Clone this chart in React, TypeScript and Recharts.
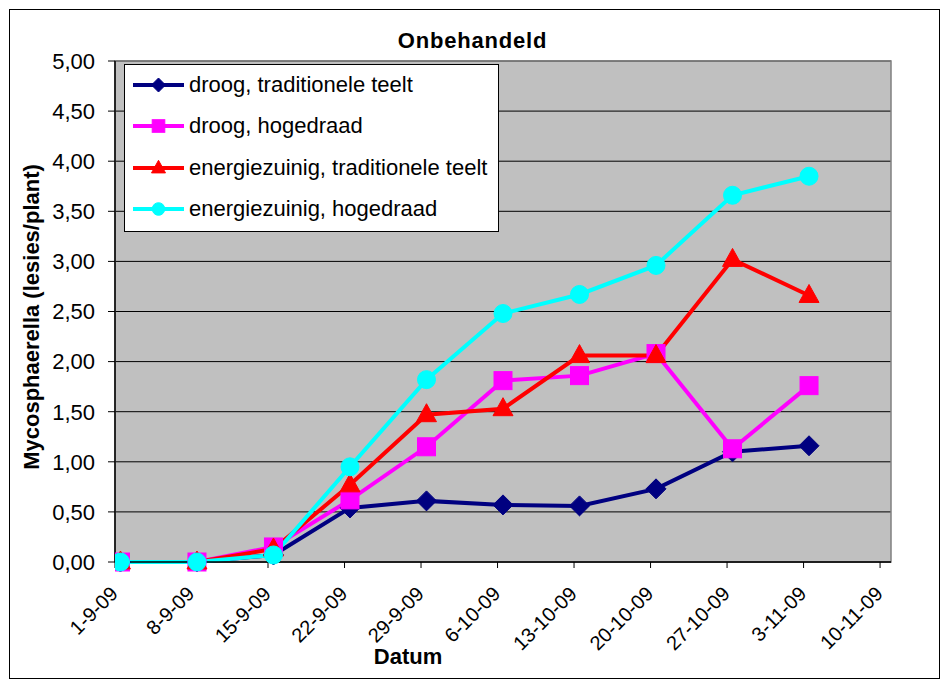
import React from 'react';
import {
  LineChart,
  Line,
  XAxis,
  YAxis,
  CartesianGrid,
  Legend,
  ReferenceArea,
  Customized,
} from 'recharts';

// ---- data ----
const dates = ['1-9-09', '8-9-09', '15-9-09', '22-9-09', '29-9-09', '6-10-09', '13-10-09', '20-10-09', '27-10-09', '3-11-09'];
const tickDates = ['1-9-09', '8-9-09', '15-9-09', '22-9-09', '29-9-09', '6-10-09', '13-10-09', '20-10-09', '27-10-09', '3-11-09', '10-11-09'];
const droogTraditioneel = [0, 0, 0.07, 0.54, 0.61, 0.57, 0.56, 0.73, 1.1, 1.16];
const droogHogedraad = [0, 0, 0.15, 0.62, 1.15, 1.81, 1.86, 2.08, 1.13, 1.76];
const energieTraditioneel = [0, 0, 0.13, 0.77, 1.47, 1.53, 2.06, 2.06, 3.02, 2.66];
const energieHogedraad = [0, 0, 0.07, 0.95, 1.82, 2.48, 2.67, 2.96, 3.66, 3.85];
const yTicks = [0, 0.5, 1, 1.5, 2, 2.5, 3, 3.5, 4, 4.5, 5];

const seriesNames = [
  'droog, traditionele teelt',
  'droog, hogedraad',
  'energiezuinig, traditionele teelt',
  'energiezuinig, hogedraad',
];

const FONT = '"Liberation Sans", Arial, sans-serif';

// day number since 1-9-09
const dayOf = (label: string) => {
  const [d, m, y] = label.split('-').map(Number);
  return (Date.UTC(2000 + y, m - 1, d) - Date.UTC(2009, 8, 1)) / 86400000;
};

// Excel date axis plots each day in the middle of its day slot
const data = dates.map((date, i) => ({
  x: dayOf(date) + 0.5,
  date,
  s0: droogTraditioneel[i],
  s1: droogHogedraad[i],
  s2: energieTraditioneel[i],
  s3: energieHogedraad[i],
}));

const xTicks = tickDates.map(dayOf);
const xMax = dayOf(tickDates[tickDates.length - 1]) + 1;
const labelByDay: Record<number, string> = {};
tickDates.forEach((t) => (labelByDay[dayOf(t)] = t));

const styles = [
  { key: 's0', color: '#000080', shape: 'diamond' },
  { key: 's1', color: '#FF00FF', shape: 'square' },
  { key: 's2', color: '#FF0000', shape: 'triangle' },
  { key: 's3', color: '#00FFFF', shape: 'circle' },
];

function Marker({ cx, cy, shape, color, scale = 1 }: any) {
  if (cx == null || cy == null) return null;
  if (shape === 'diamond') {
    const r = 10 * scale;
    return <polygon points={`${cx},${cy - r} ${cx + r},${cy} ${cx},${cy + r} ${cx - r},${cy}`} fill={color} stroke={color} strokeWidth={1} />;
  }
  if (shape === 'square') {
    const h = 9 * scale;
    return <rect x={cx - h} y={cy - h} width={2 * h} height={2 * h} fill={color} stroke={color} strokeWidth={1} />;
  }
  if (shape === 'triangle') {
    const w = 10 * scale;
    const t = 11 * scale;
    const b = 7 * scale;
    return <polygon points={`${cx},${cy - t} ${cx + w},${cy + b} ${cx - w},${cy + b}`} fill={color} stroke={color} strokeWidth={1} />;
  }
  return <circle cx={cx} cy={cy} r={9 * scale} fill={color} stroke={color} strokeWidth={1} />;
}

function XTick({ x, y, payload }: any) {
  const label = labelByDay[payload.value] ?? '';
  const ax = x + 4;
  const ay = y + 25;
  return (
    <text
      x={ax}
      y={ay}
      transform={`rotate(-45 ${ax} ${ay})`}
      textAnchor="end"
      fontSize={20}
      fontFamily={FONT}
      fill="#000"
    >
      {label}
    </text>
  );
}

function LegendBox() {
  return (
    <div
      style={{
        width: 375,
        height: 168,
        background: '#fff',
        border: '1px solid #000',
        fontFamily: FONT,
        fontSize: 22,
        color: '#000',
        paddingTop: 0,
        boxSizing: 'border-box',
      }}
    >
      {styles.map((s, i) => (
        <div key={s.key} style={{ height: 41.5, display: 'flex', alignItems: 'center', marginTop: i === 0 ? -1 : 0 }}>
          <svg width={62} height={24} style={{ marginLeft: 8, flexShrink: 0 }}>
            <line x1={0} y1={12} x2={51} y2={12} stroke={s.color} strokeWidth={4} />
            <Marker cx={25.5} cy={12} shape={s.shape} color={s.color} scale={0.7} />
          </svg>
          <span style={{ marginLeft: -6, whiteSpace: 'nowrap', lineHeight: '24px' }}>{seriesNames[i]}</span>
        </div>
      ))}
    </div>
  );
}

function Texts() {
  return (
    <g fontFamily={FONT} fill="#000">
      <text x={462.5} y={38} textAnchor="middle" fontSize={22} fontWeight="bold" letterSpacing={0.8}>
        Onbehandeld
      </text>
      <text x={398} y={654} textAnchor="middle" fontSize={22} fontWeight="bold">
        Datum
      </text>
      <text x={29} y={307} textAnchor="middle" fontSize={22} fontWeight="bold" transform="rotate(-90 29 307)">
        Mycosphaerella (lesies/plant)
      </text>
    </g>
  );
}

export default function App() {
  return (
    <div style={{ paddingTop: 1, paddingLeft: 1 }}>
      <div style={{ width: 929, height: 668, border: '1px solid #000', background: '#fff', position: 'relative' }}>
        <LineChart width={929} height={668} data={data} margin={{ top: 51, right: 48, left: 0, bottom: 0 }}>
          <CartesianGrid horizontal vertical={false} stroke="#000" strokeWidth={1} fill="#C0C0C0" fillOpacity={1} />
          <ReferenceArea x1={0} x2={xMax} y1={0} y2={5} fill="none" stroke="#808080" strokeWidth={1.5} />
          <XAxis
            type="number"
            dataKey="x"
            domain={[0, xMax]}
            ticks={xTicks}
            interval={0}
            height={116}
            tick={<XTick />}
            tickSize={6}
            tickLine={{ stroke: '#000' }}
            axisLine={{ stroke: '#000', strokeWidth: 1.5 }}
            allowDataOverflow
          />
          <YAxis
            type="number"
            domain={[0, 5]}
            ticks={yTicks}
            interval={0}
            width={105}
            tickSize={7}
            tickMargin={13}
            tickFormatter={(v: number) => v.toFixed(2).replace('.', ',')}
            tick={{ fill: '#000', fontSize: 22, fontFamily: FONT }}
            tickLine={{ stroke: '#000' }}
            axisLine={{ stroke: '#000', strokeWidth: 1.5 }}
          />
          <Legend
            layout="vertical"
            align="center"
            verticalAlign="middle"
            content={() => <LegendBox />}
            wrapperStyle={{ position: 'absolute', left: 114, top: 54, width: 375, height: 168 }}
          />
          {styles.map((s, i) => (
            <Line
              key={s.key}
              type="linear"
              dataKey={s.key}
              name={seriesNames[i]}
              stroke={s.color}
              strokeWidth={4}
              isAnimationActive={false}
              dot={(p: any) => <Marker key={`${s.key}-${p.index}`} cx={p.cx} cy={p.cy} shape={s.shape} color={s.color} />}
              activeDot={false}
            />
          ))}
          <Customized component={Texts} />
        </LineChart>
      </div>
    </div>
  );
}
